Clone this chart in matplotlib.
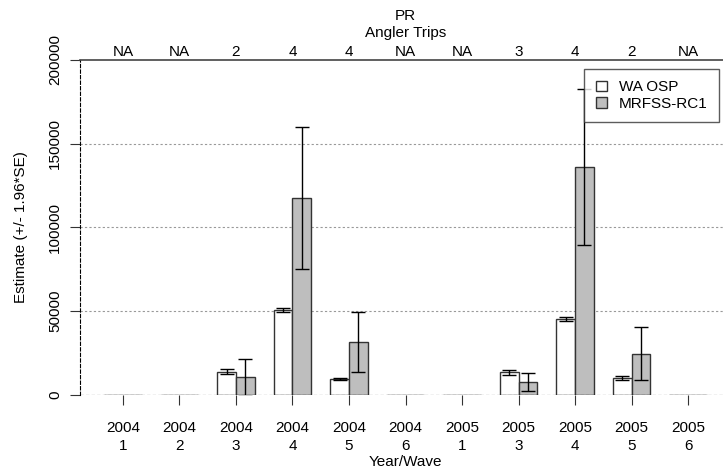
import numpy as np
import matplotlib
matplotlib.use('Agg')
import matplotlib.pyplot as plt
from matplotlib.patches import Patch

plt.rcParams['font.family'] = ['Liberation Sans', 'DejaVu Sans']

years = ['2004'] * 6 + ['2005'] * 5
waves = ['1', '2', '3', '4', '5', '6', '1', '3', '4', '5', '6']
trips = ['NA', 'NA', '2', '4', '4', 'NA', 'NA', '3', '4', '2', 'NA']

wa_osp = [0, 0, 14000, 50600, 9400, 0, 0, 13500, 45200, 10000, 0]
wa_osp_err = [0, 0, 1300, 1200, 500, 0, 0, 1600, 1200, 1200, 0]
mrfss = [0, 0, 10500, 117500, 31500, 0, 0, 7800, 136300, 24500, 0]
mrfss_err = [0, 0, 10800, 42500, 18000, 0, 0, 5500, 46500, 15800, 0]

W, H = 723, 473
fs = 11
fig = plt.figure(figsize=(W / 100, H / 100), dpi=100)
ax = fig.add_axes([80 / W, (H - 395) / H, 651 / W, 335 / H])

x = np.arange(len(waves))
bw = 0.33
ax.bar(x - bw / 2, wa_osp, bw, color='white', edgecolor='#333333', linewidth=1, zorder=3)
ax.bar(x + bw / 2, mrfss, bw, color='#bebebe', edgecolor='#333333', linewidth=1, zorder=3)

keep = [i for i in x if wa_osp[i] > 0]
ax.errorbar(x[keep] - bw / 2, np.array(wa_osp)[keep], yerr=np.array(wa_osp_err)[keep],
            fmt='none', ecolor='black', elinewidth=1, capsize=5, capthick=1, zorder=4)
ax.errorbar(x[keep] + bw / 2, np.array(mrfss)[keep], yerr=np.array(mrfss_err)[keep],
            fmt='none', ecolor='black', elinewidth=1, capsize=5, capthick=1, zorder=4)

ax.set_xlim(-0.761, 10.761)
ax.set_ylim(0, 200000)

for yv in [50000, 100000, 150000]:
    ax.axhline(yv, color='#999999', linestyle=(0, (2, 2)), linewidth=0.8, zorder=1)
ax.axhline(0, color='black', linestyle=(0, (3, 2)), linewidth=0.8, zorder=5)

ax.spines['right'].set_visible(False)
ax.spines['bottom'].set_visible(False)
ax.spines['left'].set_linestyle((0, (3, 2)))
ax.spines['left'].set_linewidth(0.8)
ax.spines['top'].set_color('#444444')
ax.spines['top'].set_linewidth(1.2)

ax.set_xticks(x)
ax.set_xticklabels([y + '\n' + w for y, w in zip(years, waves)], fontsize=fs, linespacing=1.3)
ax.tick_params(axis='x', length=7, width=0.8, pad=12, color='#333333')
ax.set_yticks([0, 50000, 100000, 150000, 200000])
ax.set_yticklabels(['0', '50000', '100000', '150000', '200000'], rotation=90, va='center', fontsize=fs)
ax.tick_params(axis='y', length=7, width=0.8, pad=6, color='#333333')

ax.set_xlabel('Year/Wave', fontsize=fs, labelpad=2)
ax.set_ylabel('Estimate (+/- 1.96*SE)', fontsize=fs, labelpad=14)

for i, t in enumerate(trips):
    ax.text(i, 1.0 + 8 / 335, t, ha='center', va='center', fontsize=fs,
            transform=ax.get_xaxis_transform())
ax.text(5, 1.0 + 27 / 335, 'Angler Trips', ha='center', va='center', fontsize=fs,
        transform=ax.get_xaxis_transform())
ax.text(5, 1.0 + 44 / 335, 'PR', ha='center', va='center', fontsize=fs,
        transform=ax.get_xaxis_transform())

handles = [Patch(facecolor='white', edgecolor='#333333', label='WA OSP'),
           Patch(facecolor='#bebebe', edgecolor='#333333', label='MRFSS-RC1')]
leg = ax.legend(handles=handles, loc='upper right', bbox_to_anchor=((719 - 80) / 651, (395 - 69) / 335),
                fontsize=fs, frameon=True, fancybox=False, handlelength=0.7, handleheight=0.7,
                handletextpad=0.8, borderpad=0.75, borderaxespad=0, labelspacing=0.15)
leg.get_frame().set_edgecolor('#333333')
leg.get_frame().set_linewidth(1)
leg.set_zorder(6)

fig.savefig('out.png', dpi=100)
